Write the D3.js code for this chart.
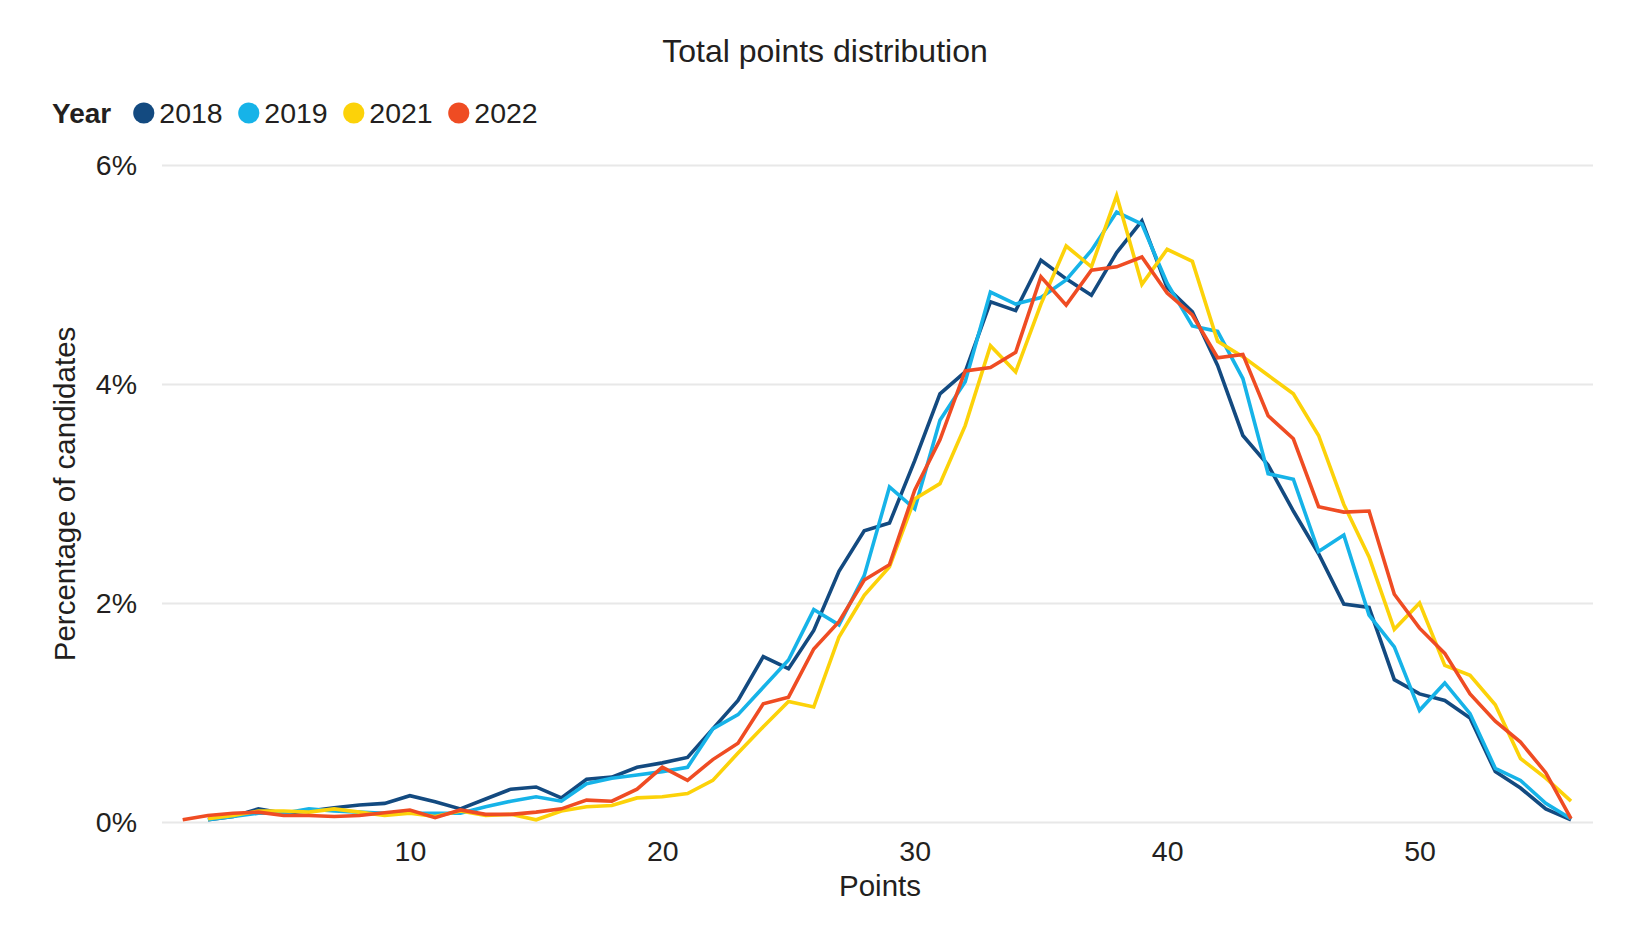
<!DOCTYPE html>
<html>
<head>
<meta charset="utf-8">
<script src="https://cdn.jsdelivr.net/npm/d3@7"></script>
<style>
  html, body { margin: 0; padding: 0; background: #ffffff; }
  svg { display: block; }
  text { font-family: "Liberation Sans", Arial, Helvetica, sans-serif; fill: #231f20; }
</style>
</head>
<body>
<svg id="chart" width="1628" height="948"></svg>
<script>
const points = d3.range(1, 57);
const years = ["2018", "2019", "2021", "2022"];
const colors = ["#134a80", "#16b3e8", "#fcd209", "#ef4c23"];
const yTicks = [0, 2, 4, 6];
const xTicks = [10, 20, 30, 40, 50];

const s2018 = [null, 0.02, 0.05, 0.12, 0.08, 0.10, 0.13, 0.155, 0.17, 0.24, 0.185, 0.12, 0.21, 0.30, 0.32, 0.22, 0.39, 0.41, 0.50, 0.54, 0.59, 0.85, 1.11, 1.51, 1.40, 1.75, 2.29, 2.66, 2.73, 3.30, 3.91, 4.11, 4.75, 4.67, 5.13, 4.96, 4.81, 5.20, 5.49, 4.88, 4.66, 4.17, 3.53, 3.26, 2.84, 2.45, 1.99, 1.96, 1.30, 1.17, 1.11, 0.95, 0.46, 0.31, 0.12, 0.02];
const s2019 = [null, 0.02, 0.05, 0.08, 0.08, 0.12, 0.10, 0.09, 0.08, 0.08, 0.08, 0.08, 0.14, 0.19, 0.23, 0.19, 0.35, 0.40, 0.43, 0.46, 0.50, 0.85, 0.98, 1.23, 1.48, 1.94, 1.80, 2.25, 3.06, 2.86, 3.67, 4.02, 4.84, 4.73, 4.79, 4.95, 5.22, 5.57, 5.46, 4.92, 4.53, 4.48, 4.05, 3.18, 3.13, 2.47, 2.62, 1.89, 1.60, 1.02, 1.27, 0.99, 0.49, 0.38, 0.17, 0.03];
const s2021 = [null, 0.03, 0.06, 0.10, 0.10, 0.09, 0.12, 0.09, 0.06, 0.08, 0.05, 0.10, 0.06, 0.07, 0.02, 0.10, 0.14, 0.15, 0.22, 0.23, 0.26, 0.38, 0.63, 0.87, 1.10, 1.05, 1.69, 2.07, 2.33, 2.95, 3.09, 3.62, 4.35, 4.11, 4.73, 5.26, 5.07, 5.72, 4.91, 5.23, 5.12, 4.39, 4.25, 4.08, 3.91, 3.53, 2.90, 2.42, 1.76, 2.00, 1.43, 1.34, 1.07, 0.58, 0.40, 0.19];
const s2022 = [0.02, 0.06, 0.08, 0.09, 0.06, 0.06, 0.05, 0.06, 0.085, 0.11, 0.04, 0.11, 0.07, 0.07, 0.09, 0.12, 0.20, 0.19, 0.30, 0.50, 0.38, 0.57, 0.72, 1.08, 1.14, 1.58, 1.83, 2.21, 2.35, 3.03, 3.49, 4.12, 4.15, 4.29, 4.98, 4.72, 5.04, 5.07, 5.16, 4.83, 4.63, 4.24, 4.27, 3.71, 3.50, 2.88, 2.83, 2.84, 2.08, 1.77, 1.54, 1.17, 0.92, 0.73, 0.45, 0.03];

const seriesValues = [s2018, s2019, s2021, s2022];

const svg = d3.select("#chart");
const gridLeft = 162, gridRight = 1593;

const x = d3.scaleLinear().domain([1, 56]).range([182.7, 1571]);
const y = d3.scaleLinear().domain([0, 6]).range([822, 165]);

// Title
svg.append("text")
  .attr("x", 825).attr("y", 62)
  .attr("text-anchor", "middle")
  .style("font-size", "32px")
  .text("Total points distribution");

// Legend
const legend = svg.append("g");
legend.append("text")
  .attr("x", 52).attr("y", 123)
  .style("font-size", "28px").style("font-weight", "bold")
  .text("Year");
years.forEach((yr, i) => {
  const cx = 143.8 + i * 105;
  legend.append("circle").attr("cx", cx).attr("cy", 113).attr("r", 10.6).attr("fill", colors[i]);
  legend.append("text").attr("x", cx + 15.5).attr("y", 123)
    .style("font-size", "28.5px").text(yr);
});

// Y axis with gridlines
const yAxis = d3.axisLeft(y).tickValues(yTicks).tickSize(-(gridRight - gridLeft))
  .tickPadding(25).tickFormat(d => d + "%");
const gy = svg.append("g").attr("transform", `translate(${gridLeft},0)`).call(yAxis);
gy.select(".domain").remove();
gy.selectAll(".tick line").attr("stroke", "#e8e8e8").attr("stroke-width", 2);
gy.selectAll(".tick text").style("font-size", "28.5px").attr("fill", "#231f20")
  .style("font-family", "'Liberation Sans', Arial, sans-serif");

// X axis
const xAxis = d3.axisBottom(x).tickValues(xTicks).tickSize(0).tickPadding(19);
const gx = svg.append("g").attr("transform", `translate(0,${y(0)})`).call(xAxis);
gx.select(".domain").remove();
gx.selectAll(".tick text").style("font-size", "28.5px").attr("fill", "#231f20")
  .style("font-family", "'Liberation Sans', Arial, sans-serif");

// Axis titles
svg.append("text")
  .attr("x", 880).attr("y", 896)
  .attr("text-anchor", "middle")
  .style("font-size", "29.5px")
  .text("Points");
svg.append("text")
  .attr("transform", "translate(75,494) rotate(-90)")
  .attr("text-anchor", "middle")
  .style("font-size", "29.5px")
  .text("Percentage of candidates");

// Lines
const line = d3.line()
  .defined(d => d.v !== null)
  .x(d => x(d.p))
  .y(d => y(d.v));

seriesValues.forEach((vals, i) => {
  const data = points.map((p, j) => ({ p: p, v: vals[j] }));
  svg.append("path")
    .datum(data)
    .attr("fill", "none")
    .attr("stroke", colors[i])
    .attr("stroke-width", 3.6)
    .attr("stroke-linejoin", "miter")
    .attr("d", line);
});
</script>
</body>
</html>
